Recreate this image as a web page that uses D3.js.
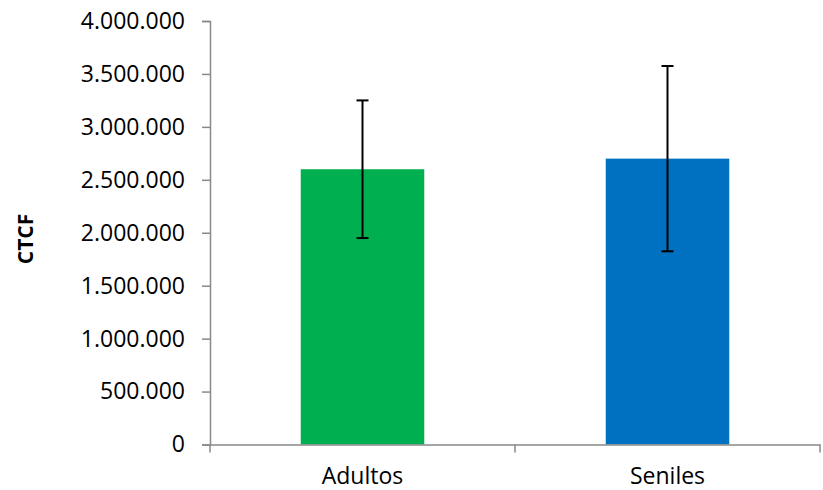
<!DOCTYPE html>
<html>
<head>
<meta charset="utf-8">
<script src="https://cdn.jsdelivr.net/npm/d3@7"></script>
<style>
  html, body { margin: 0; padding: 0; background: #fff; }
  svg { display: block; }
  text { font-family: "Open Sans", sans-serif; fill: #000; }
</style>
</head>
<body>
<svg id="chart" width="823" height="490"></svg>
<script>
// Group means and their error ranges (CTCF)
const categories = ["Adultos", "Seniles"];
const means = [2600000, 2700000];
const errors = [650000, 875000];
const barColors = ["#00B050", "#0070C0"];
const yTicks = [0, 500000, 1000000, 1500000, 2000000, 2500000, 3000000, 3500000, 4000000];
const yLabel = "CTCF";

const svg = d3.select("#chart");
const plotLeft = 210, plotRight = 820, plotTop = 21, plotBottom = 444.5;

const x = d3.scaleBand().domain(categories).range([plotLeft, plotRight]).padding(0);
const y = d3.scaleLinear().domain([0, 4000000]).range([plotBottom, plotTop]);
const barW = x.bandwidth() * 0.405;

// thousands separated with dots
const fmt = d3.formatLocale({ decimal: ",", thousands: ".", grouping: [3], currency: ["", ""] }).format(",d");

const axisColor = "#898989";

// y axis
const yAxis = svg.append("g")
  .attr("transform", `translate(${plotLeft},0)`)
  .call(d3.axisLeft(y).tickValues(yTicks).tickFormat(fmt).tickSize(8).tickPadding(17));
yAxis.select(".domain").attr("stroke", axisColor).attr("stroke-width", 1.5);
yAxis.selectAll(".tick line").attr("stroke", axisColor).attr("stroke-width", 1.5);
yAxis.selectAll(".tick text").attr("font-size", 23).attr("font-family", "Open Sans, sans-serif").attr("fill", "#000");

// bars
svg.append("g").selectAll("rect")
  .data(categories)
  .join("rect")
  .attr("x", d => x(d) + (x.bandwidth() - barW) / 2)
  .attr("width", barW)
  .attr("y", (d, i) => y(means[i]))
  .attr("height", (d, i) => y(0) - y(means[i]))
  .attr("fill", (d, i) => barColors[i]);

// x axis
const xAxis = svg.append("g")
  .attr("transform", `translate(0,${plotBottom})`)
  .call(d3.axisBottom(x).tickSize(0).tickPadding(23));
xAxis.select(".domain").attr("stroke", axisColor).attr("stroke-width", 1.5);
xAxis.selectAll(".tick text").attr("font-size", 23).attr("font-family", "Open Sans, sans-serif").attr("fill", "#000");
// category boundary ticks
const bounds = [plotLeft, plotLeft + x.step(), plotRight];
xAxis.selectAll(".bound")
  .data(bounds)
  .join("line")
  .attr("class", "bound")
  .attr("x1", d => d).attr("x2", d => d)
  .attr("y1", 0).attr("y2", 8)
  .attr("stroke", axisColor).attr("stroke-width", 1.5);

// error bars
const eb = svg.append("g").attr("stroke", "#000").attr("stroke-width", 2);
categories.forEach((c, i) => {
  const cx = x(c) + x.bandwidth() / 2;
  const hi = y(means[i] + errors[i]);
  const lo = y(means[i] - errors[i]);
  eb.append("line").attr("x1", cx).attr("x2", cx).attr("y1", hi).attr("y2", lo);
  eb.append("line").attr("x1", cx - 6).attr("x2", cx + 6).attr("y1", hi).attr("y2", hi);
  eb.append("line").attr("x1", cx - 6).attr("x2", cx + 6).attr("y1", lo).attr("y2", lo);
});

// y axis title
svg.append("text")
  .attr("transform", `translate(33,239) rotate(-90)`)
  .attr("text-anchor", "middle")
  .attr("font-size", 21)
  .attr("font-weight", "bold")
  .text(yLabel);
</script>
</body>
</html>
